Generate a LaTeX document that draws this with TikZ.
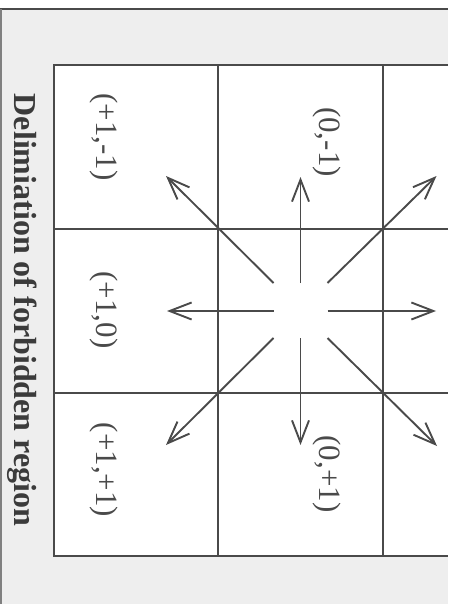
\documentclass[tikz,border=0pt]{standalone}
\usepackage{fontspec}
\setmainfont{Liberation Serif}
\usetikzlibrary{arrows.meta,calc}
\definecolor{ink}{HTML}{4A4A4A}
\definecolor{bandgray}{HTML}{EEEEEE}
\tikzset{
  gridline/.style={draw=ink, line width=2.1pt},
  ray/.style={draw=ink, line width=1.9pt, -{Straight Barb[length=22pt,width=17pt,line width=1.9pt]}},
  celllabel/.style={rotate=-90, font=\fontsize{31}{31}\selectfont, text=ink, inner sep=0pt},
  titlelabel/.style={rotate=-90, font=\bfseries\fontsize{32}{32}\selectfont, text=ink!80!black, inner sep=0pt}
}
\begin{document}
\begin{tikzpicture}[x=1pt,y=-1pt]
\useasboundingbox (0,0) rectangle (458,604);
\fill[white] (0,0) rectangle (458,604);
% gray band round the grid
\fill[bandgray] (0,9) rectangle (448,604);
\fill[white] (54,65) rectangle (448,556);
% rules
\draw[ink, line width=1.8pt] (0,9) -- (448,9);
\draw[ink!70, line width=1.4pt] (1,9) -- (1,604);
% grid
\draw[gridline] (448,65) -- (54,65) -- (54,556) -- (448,556);
\draw[gridline] (54,229) -- (448,229);
\draw[gridline] (54,393) -- (448,393);
\draw[gridline] (218,65) -- (218,556);
\draw[gridline] (383,65) -- (383,556);
% centre and rays
\coordinate (c) at (300.5,311);
\foreach \n/\sx/\sy/\ex/\ey in {
  l/-27/0/-133.5/0, r/27/0/135.5/0, u/0/-28/0/-134, d/0/27/0/134,
  ul/-27/-28/-134.5/-135, ur/27/-28/136/-135, dl/-27/27/-134.5/134, dr/27/27/136.5/135} {
  \coordinate (s\n) at ($(c)+(\sx,\sy)$);
  \coordinate (e\n) at ($(c)+(\ex,\ey)$);
  \draw[ray] (s\n) -- (e\n);
}
% labels
\node[celllabel] (pm) at (104,137) {(+1,-1)};
\node[celllabel] (pz) at (104,310) {(+1,0)};
\node[celllabel] (pp) at (104,470) {(+1,+1)};
\node[celllabel] (zm) at (327,142) {(0,-1)};
\node[celllabel] (zp) at (327,474) {(0,+1)};
\node[titlelabel] (title) at (22,310) {Delimiation of forbidden region};
\end{tikzpicture}
\end{document}
